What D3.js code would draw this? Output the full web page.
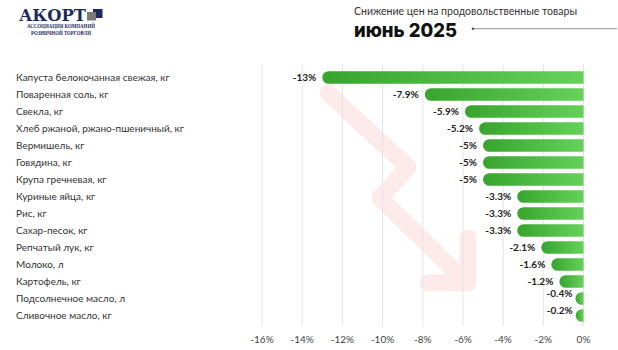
<!DOCTYPE html>
<html><head><meta charset="utf-8">
<script src="https://cdn.jsdelivr.net/npm/d3@7"></script>
<style>body{margin:0;background:#fff}svg{display:block}</style>
</head><body>
<script>
const categories = ["Капуста белокочанная свежая, кг","Поваренная соль, кг","Свекла, кг","Хлеб ржаной, ржано-пшеничный, кг","Вермишель, кг","Говядина, кг","Крупа гречневая, кг","Куриные яйца, кг","Рис, кг","Сахар-песок, кг","Репчатый лук, кг","Молоко, л","Картофель, кг","Подсолнечное масло, л","Сливочное масло, кг"];
const values = [-13, -7.9, -5.9, -5.2, -5, -5, -5, -3.3, -3.3, -3.3, -2.1, -1.6, -1.2, -0.4, -0.2];
const valueLabels = ["-13%","-7.9%","-5.9%","-5.2%","-5%","-5%","-5%","-3.3%","-3.3%","-3.3%","-2.1%","-1.6%","-1.2%","-0.4%","-0.2%"];
const tickValues = [-16,-14,-12,-10,-8,-6,-4,-2,0];
const tickLabels = ["-16%","-14%","-12%","-10%","-8%","-6%","-4%","-2%","0%"];
const titleSmall = "Снижение цен на продовольственные товары";
const titleBig = "июнь 2025";

const W=618,H=350;
const svg=d3.select("body").append("svg").attr("width",W).attr("height",H);
const font="Lato, 'Noto Sans', sans-serif";

const x=d3.scaleLinear().domain([-16,0]).range([262,583.5]);
const y=d3.scaleBand().domain(categories).range([69,324]).paddingInner(0.26).paddingOuter(0.13);

// gradient
const defs=svg.append("defs");
const g=defs.append("linearGradient").attr("id","bg").attr("x1","0").attr("x2","1").attr("y1","0").attr("y2","0");
g.append("stop").attr("offset","0").attr("stop-color","#37a42e");
g.append("stop").attr("offset","1").attr("stop-color","#64d25a");

// decorative arrow
svg.append("path").attr("d","M328,93 L408,167 L380,198 L462,278").attr("fill","none")
  .attr("stroke","#fdeaea").attr("stroke-width",17).attr("stroke-linecap","round").attr("stroke-linejoin","round");
svg.append("path").attr("d","M468,238 L468,283 L428,283").attr("fill","none")
  .attr("stroke","#fdeaea").attr("stroke-width",17).attr("stroke-linecap","round").attr("stroke-linejoin","round");

// gridlines
svg.append("g").selectAll("line").data(tickValues).join("line")
  .attr("x1",d=>x(d)).attr("x2",d=>x(d)).attr("y1",64).attr("y2",326)
  .attr("stroke","#e4e4e4").attr("stroke-width",1);

// axis labels
svg.append("g").selectAll("text").data(tickValues).join("text")
  .attr("x",d=>x(d)).attr("y",343).attr("text-anchor","middle")
  .attr("font-family",font).attr("font-size",10).attr("fill","#444")
  .text((d,i)=>tickLabels[i]);

// category labels
svg.append("g").selectAll("text").data(categories).join("text")
  .attr("x",16).attr("y",d=>y(d)+y.bandwidth()/2+3.5)
  .attr("font-family",font).attr("font-size",10).attr("fill","#333").text(d=>d);

// bars
const bh=y.bandwidth(), r=bh/2;
function barPath(v,c){
  const x0=x(0); let x1=Math.min(x(v), x0-r-1.5);
  const t=y(c), b=t+bh;
  return `M${x0},${t} L${x1+r},${t} A${r},${r} 0 0 0 ${x1+r},${b} L${x0},${b} Z`;
}
svg.append("g").selectAll("path").data(values).join("path")
  .attr("d",(v,i)=>barPath(v,categories[i])).attr("fill","url(#bg)");

// value labels
svg.append("g").selectAll("text").data(values).join("text")
  .attr("x",(v,i)=>Math.min(x(v), x(0)-r-1.5)-(Math.abs(v)<1?3:6))
  .attr("y",(v,i)=>y(categories[i])+bh/2+3.5-(Math.abs(v)<1?5:0))
  .attr("text-anchor","end").attr("font-family",font).attr("font-weight","bold")
  .attr("font-size",10).attr("fill","#222").text((v,i)=>valueLabels[i]);

// titles
svg.append("text").attr("x",354).attr("y",15).attr("font-family",font).attr("font-size",11)
  .attr("fill","#333").attr("textLength",223).attr("lengthAdjust","spacingAndGlyphs").text(titleSmall);
svg.append("text").attr("x",354).attr("y",37).attr("font-family","Inter, 'Noto Sans', sans-serif")
  .attr("font-weight",800).attr("font-size",19).attr("fill","#111")
  .attr("textLength",103).attr("lengthAdjust","spacingAndGlyphs").text(titleBig);
svg.append("line").attr("x1",473).attr("x2",617).attr("y1",28.7).attr("y2",28.7).attr("stroke","#777").attr("stroke-width",0.8);
svg.append("circle").attr("cx",473).attr("cy",28.7).attr("r",1.3).attr("fill","#555");

// logo
const navy="#1e2b5e";
svg.append("text").attr("x",19).attr("y",20.5).attr("font-family","'DejaVu Serif', serif").attr("font-weight","bold")
  .attr("font-size",16).attr("fill",navy).attr("textLength",67).attr("lengthAdjust","spacingAndGlyphs").text("АКОРТ");
svg.append("rect").attr("x",93).attr("y",9).attr("width",9.5).attr("height",9).attr("fill",navy);
svg.append("rect").attr("x",87).attr("y",12).attr("width",9).attr("height",8.5).attr("fill","#7a7a7a");
svg.append("text").attr("x",27).attr("y",28).attr("font-family","'Liberation Serif', serif").attr("font-weight","bold")
  .attr("font-size",5.5).attr("fill",navy).attr("textLength",68).attr("lengthAdjust","spacingAndGlyphs").text("АССОЦИАЦИЯ КОМПАНИЙ");
svg.append("text").attr("x",31).attr("y",34.5).attr("font-family","'Liberation Serif', serif").attr("font-weight","bold")
  .attr("font-size",5.5).attr("fill",navy).attr("textLength",60).attr("lengthAdjust","spacingAndGlyphs").text("РОЗНИЧНОЙ ТОРГОВЛИ");
</script>
</body></html>
